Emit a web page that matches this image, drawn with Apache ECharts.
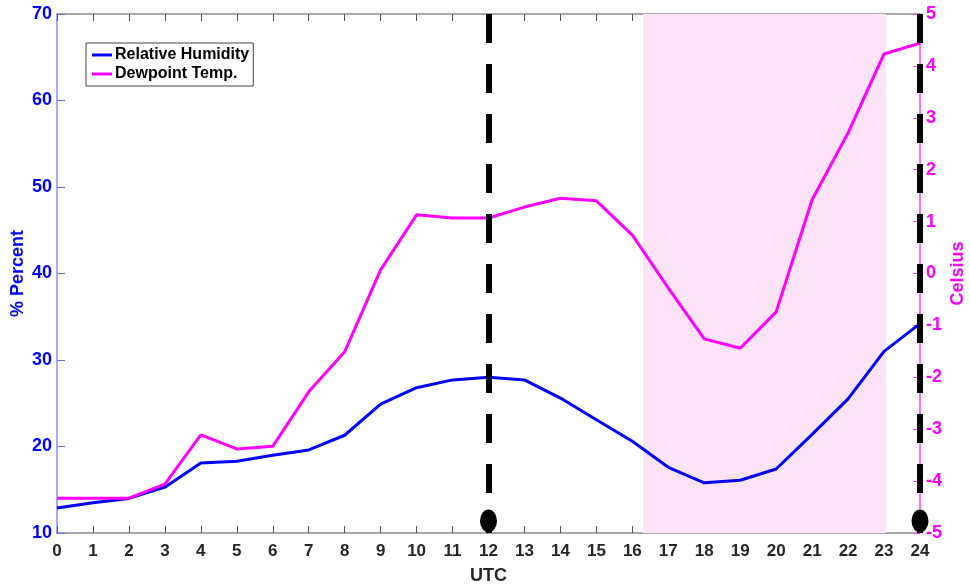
<!DOCTYPE html>
<html><head><meta charset="utf-8">
<script src="https://cdn.jsdelivr.net/npm/echarts@6/dist/echarts.min.js"></script>
<style>html,body{margin:0;padding:0;background:#fff}#c{width:970px;height:588px}</style>
</head><body><div id="c"></div>
<script>
const hours = [0,1,2,3,4,5,6,7,8,9,10,11,12,13,14,15,16,17,18,19,20,21,22,23,24];
const relHumidity = [12.9,13.5,14.0,15.3,18.1,18.3,19.0,19.6,21.3,24.9,26.8,27.7,28.0,27.7,25.6,23.1,20.6,17.6,15.8,16.1,17.4,21.4,25.5,31.0,34.2];
const dewpoint = [-4.33,-4.33,-4.33,-4.06,-3.11,-3.38,-3.33,-2.28,-1.51,0.07,1.13,1.07,1.07,1.28,1.45,1.40,0.74,-0.28,-1.26,-1.44,-0.74,1.42,2.71,4.23,4.44];
const markerHours = [12, 24];
const markerLevel = 11.4;
const shadeRange = [16.3, 23.05];
const leftTicks = [10, 70, 10];
const rightTicks = [-5, 5, 1];

const font = '"Liberation Sans", Arial, Helvetica, sans-serif';
const chart = echarts.init(document.getElementById('c'));
const pair = (xs, ys) => xs.map((x, i) => [x, ys[i]]);

chart.setOption({
  animation: false,
  grid: {left: 57, right: 50, top: 14, bottom: 55, containLabel: false, outerBoundsMode: 'none'},
  legend: {
    left: 86, top: 43, orient: 'vertical',
    data: [{name: 'Relative Humidity', icon: 'rect'}, {name: 'Dewpoint Temp.', icon: 'rect'}],
    itemWidth: 20, itemHeight: 3, itemGap: 3,
    borderColor: '#444', borderWidth: 1, padding: [4, 4, 4, 6],
    backgroundColor: '#fff',
    textStyle: {fontFamily: font, fontWeight: 'bold', fontSize: 16, color: '#000', padding: [0, 0, 0, -2]}
  },
  xAxis: [{
    type: 'value', min: 0, max: 24, interval: 1, position: 'bottom',
    name: 'UTC', nameLocation: 'middle', nameGap: 34,
    nameTextStyle: {fontFamily: font, fontWeight: 'bold', fontSize: 18, color: '#262626'},
    axisLine: {show: true, onZero: false, lineStyle: {color: '#8c8c8c', width: 1.5}},
    axisTick: {show: true, inside: true, length: 7, lineStyle: {color: '#555'}},
    axisLabel: {fontFamily: font, fontWeight: 'bold', fontSize: 17, color: '#262626', margin: 10},
    splitLine: {show: false}
  }, {
    type: 'value', min: 0, max: 24, interval: 1, position: 'top',
    axisLine: {show: true, onZero: false, lineStyle: {color: '#8c8c8c', width: 1.5}},
    axisTick: {show: true, inside: true, length: 7, lineStyle: {color: '#555'}},
    axisLabel: {show: false}, splitLine: {show: false}
  }],
  yAxis: [{
    type: 'value', min: leftTicks[0], max: leftTicks[1], interval: leftTicks[2], position: 'left',
    name: '% Percent', nameLocation: 'middle', nameGap: 30, nameRotate: 90, nameMoveOverlap: false,
    nameTextStyle: {fontFamily: font, fontWeight: 'bold', fontSize: 18, color: '#0000ff'},
    axisLine: {show: true, onZero: false, lineStyle: {color: '#8c8cff', width: 1.5}},
    axisTick: {show: true, inside: true, length: 8, lineStyle: {color: '#6a6aff'}},
    axisLabel: {fontFamily: font, fontWeight: 'bold', fontSize: 18, color: '#0000ff', margin: 5},
    splitLine: {show: false}
  }, {
    type: 'value', min: rightTicks[0], max: rightTicks[1], interval: rightTicks[2], position: 'right',
    name: 'Celsius', nameLocation: 'middle', nameGap: 29, nameRotate: 90, nameMoveOverlap: false,
    nameTextStyle: {fontFamily: font, fontWeight: 'bold', fontSize: 18, color: '#ff00ff'},
    axisLine: {show: true, onZero: false, lineStyle: {color: '#ff40ff', width: 1.5}},
    axisTick: {show: true, inside: true, length: 7, lineStyle: {color: '#ff40ff'}},
    axisLabel: {fontFamily: font, fontWeight: 'bold', fontSize: 18, color: '#ff00ff', margin: 6},
    splitLine: {show: false}
  }],
  series: [{
    name: 'shade', type: 'line', data: [], xAxisIndex: 0, yAxisIndex: 0, silent: true,
    markArea: {silent: true, itemStyle: {color: '#fde3f6'},
      data: [[{xAxis: shadeRange[0]}, {xAxis: shadeRange[1]}]]}
  }, {
    name: 'Relative Humidity', type: 'line', xAxisIndex: 0, yAxisIndex: 0,
    data: pair(hours, relHumidity), showSymbol: false, symbol: 'none',
    lineStyle: {color: '#0000ff', width: 3}, itemStyle: {color: '#0000ff'}, z: 3
  }, {
    name: 'Dewpoint Temp.', type: 'line', xAxisIndex: 0, yAxisIndex: 1,
    data: pair(hours, dewpoint), showSymbol: false, symbol: 'none',
    lineStyle: {color: '#ff00ff', width: 3}, itemStyle: {color: '#ff00ff'}, z: 3
  }, {
    name: 'markers', type: 'scatter', xAxisIndex: 0, yAxisIndex: 0, z: 5,
    data: markerHours.map(h => [h, markerLevel]),
    symbol: 'circle', symbolSize: [17, 23], itemStyle: {color: '#000', opacity: 1},
    markLine: {
      silent: true, symbol: 'none', label: {show: false},
      lineStyle: {color: '#000', width: 6, type: [29, 21], opacity: 1},
      data: markerHours.map(h => [{coord: [h, leftTicks[1]]}, {coord: [h, leftTicks[0]]}])
    }
  }]
});
</script></body></html>
